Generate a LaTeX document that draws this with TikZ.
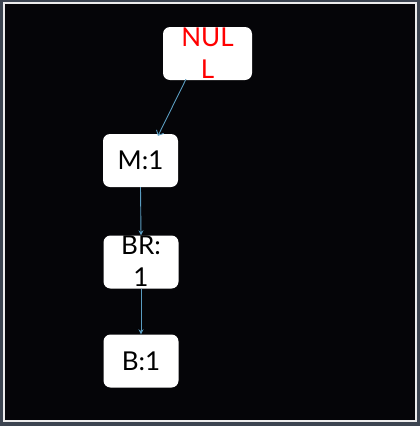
\documentclass[tikz,border=0pt]{standalone}
\usepackage{fontspec}
\setmainfont{Lato}
\usetikzlibrary{arrows.meta}
\definecolor{frame}{HTML}{3C4450}
\definecolor{inner}{HTML}{050508}
\definecolor{arr}{HTML}{5A9CC0}
\tikzset{
  box/.style={fill=white, rounded corners=7pt, minimum width=75pt, minimum height=53pt, inner sep=0pt},
  lbl/.style={font=\fontsize{26}{32}\selectfont, align=center, inner sep=0pt, text=black},
  link/.style={draw=arr, line width=0.9pt, -{Stealth[length=5pt,width=5pt]}},
  link2/.style={draw=arr, line width=0.9pt, -{Straight Barb[length=4pt,width=8pt]}}
}
\begin{document}
\begin{tikzpicture}[x=1pt,y=-1pt]
\fill[frame] (0,0) rectangle (420,426);
\fill[inner] (4,3) rectangle (416,421);
\draw[white!85!gray, line width=1.5pt] (4,3) rectangle (416,421);
\useasboundingbox (0,0) rectangle (420,426);

\node[box, minimum width=89pt] (null) at (207.5,53.5) {};
\node[lbl, text=red] (nulltxt) at (207.5,53) {NUL\\L};

\node[box] (m) at (140.5,160.5) {};
\node[lbl] (mtxt) at (m) {M:1};

\node[box] (br) at (141,262) {};
\node[lbl] (brtxt) at (141,261) {BR:\\1};

\node[box] (b) at (141,361) {};
\node[lbl] (btxt) at (b) {B:1};

\draw[link2] ([xshift=-21.5pt,yshift=1pt]null.south) -- ([xshift=17.5pt,yshift=-2pt]m.north);
\draw[link] (m.south) -- (br.north);
\draw[link] (br.south) -- (b.north);
\end{tikzpicture}
\end{document}
